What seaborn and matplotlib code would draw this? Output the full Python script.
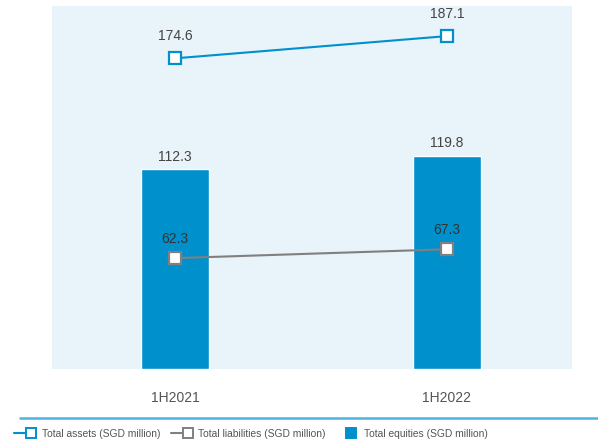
import matplotlib
matplotlib.use("Agg")
import matplotlib.pyplot as plt
from matplotlib.lines import Line2D
from matplotlib.legend_handler import HandlerBase
import seaborn as sns
import pandas as pd

periods = ["1H2021", "1H2022"]
total_assets = [174.6, 187.1]
total_liabilities = [62.3, 67.3]
total_equities = [112.3, 119.8]
legend_labels = ["Total assets (SGD million)", "Total liabilities (SGD million)", "Total equities (SGD million)"]

BLUE = "#0090CC"
GREY = "#808080"
BG = "#E8F3FA"
TXT = "#444444"

sns.set_theme(style="white")
plt.rcParams['font.family'] = ['Liberation Sans', 'DejaVu Sans']

df = pd.DataFrame({"period": periods, "assets": total_assets,
                   "liabilities": total_liabilities, "equities": total_equities})

fig = plt.figure(figsize=(5.98, 4.47), dpi=100)
ax = fig.add_axes([0.087, 0.1745, 0.8695, 0.812])
ax.set_facecolor(BG)

sns.barplot(data=df, x="period", y="equities", color=BLUE, saturation=1,
            width=0.25, ax=ax)
sns.pointplot(data=df, x="period", y="liabilities", color=GREY, marker="s",
              markersize=9, markerfacecolor="white", markeredgecolor=GREY,
              markeredgewidth=1.6, linewidth=1.5, ax=ax)
sns.pointplot(data=df, x="period", y="assets", color=BLUE, marker="s",
              markersize=9, markerfacecolor="white", markeredgecolor=BLUE,
              markeredgewidth=1.6, linewidth=1.5, ax=ax)

for i in range(len(periods)):
    ax.annotate(f"{total_equities[i]:.1f}", (i, total_equities[i]), xytext=(0, 4),
                textcoords="offset points", ha="center", va="bottom", fontsize=10, color=TXT)
    ax.annotate(f"{total_assets[i]:.1f}", (i, total_assets[i]), xytext=(0, 11),
                textcoords="offset points", ha="center", va="bottom", fontsize=10, color=TXT)
    ax.annotate(f"{total_liabilities[i]:.1f}", (i, total_liabilities[i]), xytext=(0, 9),
                textcoords="offset points", ha="center", va="bottom", fontsize=10, color="#333333")

ax.set_xlim(-0.452, 1.46)
ax.set_ylim(0, 204)
ax.set_yticks([])
ax.set_xlabel("")
ax.set_ylabel("")
ax.tick_params(axis="x", length=0, pad=16, labelsize=10, labelcolor="#555555")
for s in ax.spines.values():
    s.set_visible(False)

fig.add_artist(Line2D([0.033, 1.0], [0.065, 0.065], transform=fig.transFigure,
                      color="#4DB3E0", linewidth=1.8))


class RightMarkerHandler(HandlerBase):
    def __init__(self, color, with_line=True, filled=False):
        super().__init__()
        self.color = color
        self.with_line = with_line
        self.filled = filled

    def create_artists(self, legend, orig_handle, xdescent, ydescent, width, height,
                       fontsize, trans):
        y = height / 2 - ydescent
        x1 = width - xdescent
        arts = []
        ms = 7.5
        xm = x1 - ms * 0.5
        if self.with_line:
            ln = Line2D([-xdescent, xm], [y, y], color=self.color, linewidth=1.5)
            ln.set_transform(trans)
            arts.append(ln)
        else:
            xm = x1 - ms * 0.5 - 2
        mk = Line2D([xm], [y], marker="s", markersize=ms if self.with_line else 6.5,
                    linestyle="none",
                    markerfacecolor=self.color if self.filled else "white",
                    markeredgecolor=self.color, markeredgewidth=1.4)
        mk.set_transform(trans)
        arts.append(mk)
        return arts


h_assets = Line2D([], [], color=BLUE)
h_liab = Line2D([], [], color=GREY)
h_eq = Line2D([], [], color=BLUE, marker="s")
fig.legend([h_assets, h_liab, h_eq], legend_labels, loc="center left",
           bbox_to_anchor=(0.0234, 0.029), borderpad=0, borderaxespad=0,
           ncol=3, frameon=False, fontsize=7.4, labelcolor="#555555",
           handler_map={h_assets: RightMarkerHandler(BLUE),
                        h_liab: RightMarkerHandler(GREY),
                        h_eq: RightMarkerHandler(BLUE, with_line=False, filled=True)},
           handlelength=2.2, handletextpad=0.5, columnspacing=1.0)

fig.savefig("out.png", dpi=100)
